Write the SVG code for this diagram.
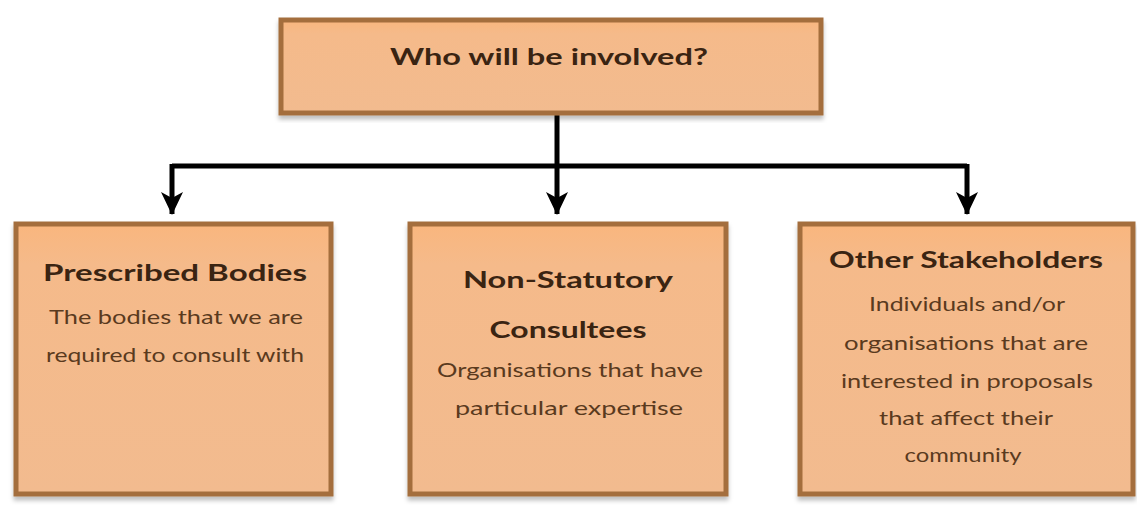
<svg xmlns="http://www.w3.org/2000/svg" width="1137" height="505" viewBox="0 0 1137 505">
<style>
.box{fill:url(#fillg);stroke:#a46e3d;stroke-width:5}
.t{font-family:Lato,"Liberation Sans",sans-serif;font-weight:700;font-size:23px;fill:#3a2412;text-anchor:middle}
.b{font-family:Lato,"Liberation Sans",sans-serif;font-weight:400;font-size:20px;fill:#5a3a1e;text-anchor:middle}
.c{stroke:#000;stroke-width:5;fill:none}
</style>
<defs>
<linearGradient id="fillg" x1="0" y1="0" x2="0" y2="1">
<stop offset="0" stop-color="#f9b67e"/>
<stop offset="0.15" stop-color="#f5ba8a"/>
<stop offset="1" stop-color="#f2bb8f"/>
</linearGradient>
<filter id="sh" x="-5%" y="-5%" width="110%" height="115%">
<feDropShadow dx="0" dy="4" stdDeviation="2" flood-color="#000" flood-opacity="0.25"/>
</filter>
<marker id="ah" markerUnits="userSpaceOnUse" markerWidth="26" markerHeight="24" refX="24" refY="12" orient="auto" viewBox="0 0 26 24">
<path d="M2,1 L8,12 L2,23 L25,12 Z" fill="#000"/>
</marker>
</defs>
<rect width="1137" height="505" fill="#fff"/>
<g id="connectors">
<line class="c" x1="557" y1="115" x2="557" y2="166"/>
<line class="c" x1="172" y1="166" x2="967" y2="166"/>
<line class="c" x1="172" y1="164" x2="172" y2="214" marker-end="url(#ah)"/>
<line class="c" x1="557" y1="166" x2="557" y2="214" marker-end="url(#ah)"/>
<line class="c" x1="967" y1="164" x2="967" y2="214" marker-end="url(#ah)"/>
</g>
<g id="node-top">
<rect class="box" filter="url(#sh)" x="281" y="20" width="540" height="93"/>
<text class="t" x="549" y="65" textLength="318" lengthAdjust="spacingAndGlyphs">Who will be involved?</text>
</g>
<g id="node-prescribed">
<rect class="box" filter="url(#sh)" x="16" y="224" width="315" height="270"/>
<text class="t" x="175" y="281" textLength="264" lengthAdjust="spacingAndGlyphs">Prescribed Bodies</text>
<text class="b" x="176" y="324" textLength="254" lengthAdjust="spacingAndGlyphs">The bodies that we are</text>
<text class="b" x="175" y="362" textLength="258" lengthAdjust="spacingAndGlyphs">required to consult with</text>
</g>
<g id="node-nonstatutory">
<rect class="box" filter="url(#sh)" x="410" y="224" width="316" height="270"/>
<text class="t" x="568" y="288" textLength="210" lengthAdjust="spacingAndGlyphs">Non-Statutory</text>
<text class="t" x="568" y="338" textLength="157" lengthAdjust="spacingAndGlyphs">Consultees</text>
<text class="b" x="570" y="377" textLength="266" lengthAdjust="spacingAndGlyphs">Organisations that have</text>
<text class="b" x="569" y="415" textLength="228" lengthAdjust="spacingAndGlyphs">particular expertise</text>
</g>
<g id="node-other">
<rect class="box" filter="url(#sh)" x="800" y="224" width="333" height="270"/>
<text class="t" x="966" y="268" textLength="274" lengthAdjust="spacingAndGlyphs">Other Stakeholders</text>
<text class="b" x="967" y="311" textLength="196" lengthAdjust="spacingAndGlyphs">Individuals and/or</text>
<text class="b" x="966" y="350" textLength="244" lengthAdjust="spacingAndGlyphs">organisations that are</text>
<text class="b" x="967" y="388" textLength="252" lengthAdjust="spacingAndGlyphs">interested in proposals</text>
<text class="b" x="966" y="425" textLength="174" lengthAdjust="spacingAndGlyphs">that affect their</text>
<text class="b" x="963" y="462" textLength="117" lengthAdjust="spacingAndGlyphs">community</text>
</g>
</svg>
